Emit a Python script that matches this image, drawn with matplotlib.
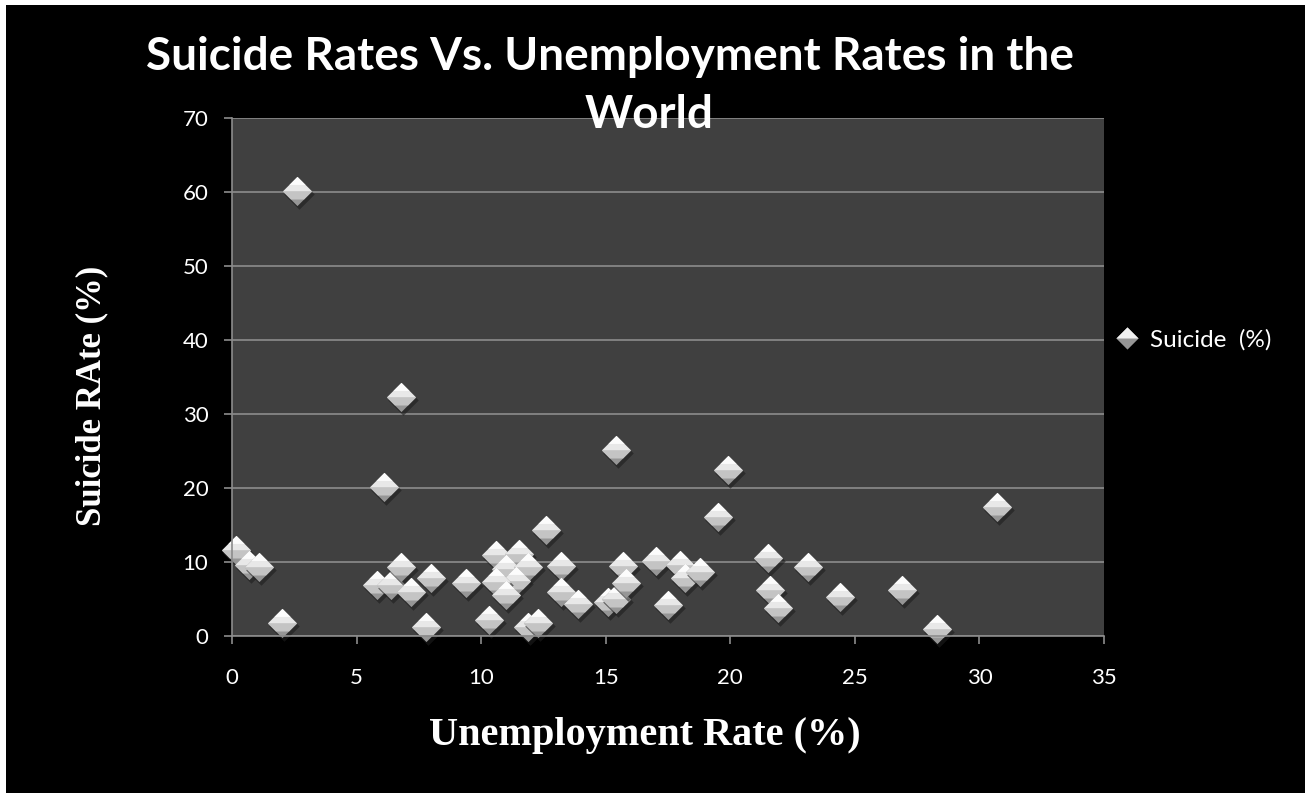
import matplotlib
matplotlib.use("Agg")
import matplotlib.pyplot as plt
from matplotlib.patches import Rectangle
from matplotlib.lines import Line2D
from matplotlib.legend_handler import HandlerTuple
from matplotlib import transforms

# --- Data ---
unemployment = [2.6, 6.8, 6.1, 0.15, 0.7, 1.1, 2.0, 5.8, 6.4, 6.8,
                7.2, 8.0, 7.8, 9.4, 15.4, 12.6, 10.6, 11.5, 11.0, 11.9,
                11.4, 10.6, 11.0, 10.3, 11.9, 12.3, 13.2, 13.2, 13.9, 15.1,
                15.4, 15.7, 15.8, 17.0, 17.5, 18.0, 18.2, 18.8, 19.9, 19.5,
                21.5, 21.6, 21.9, 23.1, 24.4, 26.9, 28.3, 30.7]
suicide = [60.1, 32.3, 20.2, 11.6, 9.6, 9.3, 1.7, 6.9, 6.9, 9.3,
           6.0, 7.8, 1.2, 7.2, 25.2, 14.3, 10.9, 11.1, 9.0, 9.3,
           7.5, 7.3, 5.5, 2.2, 1.2, 1.8, 9.4, 6.0, 4.3, 4.6,
           5.0, 9.4, 7.1, 10.1, 4.2, 9.6, 7.8, 8.7, 22.5, 16.1,
           10.5, 6.2, 3.8, 9.3, 5.3, 6.2, 1.0, 17.5]
x_ticks = [0, 5, 10, 15, 20, 25, 30, 35]
y_ticks = [0, 10, 20, 30, 40, 50, 60, 70]
series_name = "Suicide  (%)"

W, H = 1305, 793
fig = plt.figure(figsize=(W / 100, H / 100), dpi=100, facecolor="white")
# black chart area with thin white border on left/top
fig.add_artist(Rectangle((6 / W, 0), 1 - 6 / W, 1 - 5 / H, transform=fig.transFigure,
                         facecolor="black", edgecolor="none", zorder=-1))

ax = fig.add_axes([232 / W, 1 - 636 / H, (1104 - 232) / W, (636 - 118) / H])
ax.set_facecolor("#404040")
ax.set_xlim(0, 35)
ax.set_ylim(0, 70)
ax.set_xticks(x_ticks)
ax.set_yticks(y_ticks)
ax.set_axisbelow(True)
ax.grid(axis="y", color="#8c8c8c", linewidth=1.2)
ax.grid(axis="x", visible=False)
for s in ["top", "right"]:
    ax.spines[s].set_visible(False)
for s in ["left", "bottom"]:
    ax.spines[s].set_color("#8c8c8c")
    ax.spines[s].set_linewidth(1.2)
ax.tick_params(axis="both", direction="out", length=6, width=1.2, color="#8c8c8c",
               labelcolor="white", labelsize=16)
ax.tick_params(axis="x", pad=17)
ax.tick_params(axis="y", pad=11)
for lab in ax.get_xticklabels() + ax.get_yticklabels():
    lab.set_family("Lato")

# diamond pieces (lit from above)
full = [(-1, 0), (0, 1), (1, 0), (0, -1), (-1, 0)]
band = [(-1, 0), (1, 0), (0.45, -0.55), (-0.45, -0.55), (-1, 0)]
top = [(-1, 0), (0, 1), (1, 0), (-1, 0)]
tip = [(-0.55, 0.45), (0, 1), (0.55, 0.45), (-0.55, 0.45)]
ms = 21
shadow_tr = transforms.offset_copy(ax.transData, fig=fig, x=2, y=-3, units="dots")

for xv, yv in zip(unemployment, suicide):
    ax.plot([xv], [yv], ls="none", marker=full, ms=ms + 1, mfc="#1e1e1e", mec="none",
            alpha=0.6, transform=shadow_tr, clip_on=False)
    ax.plot([xv], [yv], ls="none", marker=full, ms=ms, mfc="#969696", mec="none", clip_on=False)
    ax.plot([xv], [yv], ls="none", marker=band, ms=ms, mfc="#c4c4c4", mec="none", clip_on=False)
    ax.plot([xv], [yv], ls="none", marker=top, ms=ms, mfc="#e8e8e8", mec="none", clip_on=False)
    ax.plot([xv], [yv], ls="none", marker=tip, ms=ms, mfc="#fcfcfc", mec="none", clip_on=False)

# legend
h1 = Line2D([], [], ls="none", marker=full, ms=16, mfc="#969696", mec="none")
h2 = Line2D([], [], ls="none", marker=top, ms=16, mfc="#f0f0f0", mec="none")
leg = ax.legend([(h1, h2)], [series_name], handler_map={tuple: HandlerTuple(ndivide=1)},
                loc="center left", bbox_to_anchor=(1093 / W, 1 - 340 / H),
                bbox_transform=fig.transFigure, frameon=False, handlelength=1.0,
                handletextpad=0.45, prop={"family": "Lato", "size": 17.5})
for t in leg.get_texts():
    t.set_color("white")

# title (two lines, as wrapped in the reference)
fig.text(610 / W, 1 - 70 / H, "Suicide Rates Vs. Unemployment Rates in the", color="white",
         fontsize=33, fontweight="bold", family="Lato", ha="center", va="baseline")
fig.text(649 / W, 1 - 128 / H, "World", color="white", fontsize=33, fontweight="bold",
         family="Lato", ha="center", va="baseline", zorder=5)

# axis labels
fig.text(645 / W, 1 - 735 / H, "Unemployment Rate (%)", color="white", fontsize=29,
         fontweight="bold", family="Liberation Serif", ha="center", va="center")
fig.text(92 / W, 1 - 396 / H, "Suicide RAte (%)", color="white", fontsize=25,
         fontweight="bold", family="Liberation Serif", ha="center", va="center", rotation=90)

fig.savefig("out.png", dpi=100, facecolor=fig.get_facecolor())
